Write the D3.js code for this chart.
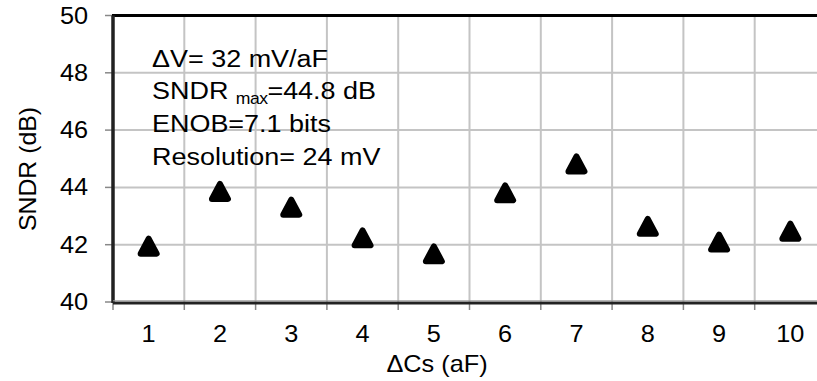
<!DOCTYPE html>
<html><head><meta charset="utf-8">
<script src="https://cdn.jsdelivr.net/npm/d3@7"></script>
<style>
html,body{margin:0;padding:0;background:#fff;}
svg{display:block;font-family:"Liberation Sans",Arial,sans-serif;}
</style></head>
<body>
<svg id="chart" width="817" height="381"></svg>
<script>
const categories = [1,2,3,4,5,6,7,8,9,10];
const sndr = [41.95, 43.86, 43.31, 42.24, 41.68, 43.81, 44.82, 42.64, 42.09, 42.47];
const yTicks = [40,42,44,46,48,50];
const annotation = ["ΔV= 32 mV/aF", "SNDR", "ENOB=7.1 bits", "Resolution= 24 mV"];
const xTitle = "ΔCs (aF)";
const yTitle = "SNDR (dB)";

const svg = d3.select("#chart");
const L = 113, R = 826, T = 15.5, B = 302;
const SX = 1.1;
const x = d3.scaleBand().domain(categories).range([L, R]).padding(0);
const y = d3.scaleLinear().domain([40, 50]).range([B, T]);

// grid
const g = svg.append("g");
g.selectAll(".hg").data(yTicks.slice(1, -1)).join("line")
  .attr("x1", L).attr("x2", R).attr("y1", d => y(d)).attr("y2", d => y(d))
  .attr("stroke", "#c4c4c4").attr("stroke-width", 2);
g.selectAll(".vg").data(categories.slice(1)).join("line")
  .attr("x1", d => x(d)).attr("x2", d => x(d)).attr("y1", T).attr("y2", B)
  .attr("stroke", "#c4c4c4").attr("stroke-width", 2);

// y ticks
g.selectAll(".yt").data(yTicks).join("line")
  .attr("x1", 105).attr("x2", L).attr("y1", d => y(d)).attr("y2", d => y(d))
  .attr("stroke", "#888").attr("stroke-width", 1.5);
// x ticks at band boundaries
const xb = categories.map(d => x(d)).concat([R]);
g.selectAll(".xt").data(xb).join("line")
  .attr("x1", d => d).attr("x2", d => d).attr("y1", B).attr("y2", B + 8)
  .attr("stroke", "#888").attr("stroke-width", 1.5);

// frame
svg.append("line").attr("x1", L - 1).attr("x2", R).attr("y1", T).attr("y2", T)
  .attr("stroke", "#000").attr("stroke-width", 3);
svg.append("line").attr("x1", L).attr("x2", L).attr("y1", T).attr("y2", B + 1)
  .attr("stroke", "#222").attr("stroke-width", 3.5);
svg.append("line").attr("x1", L).attr("x2", R).attr("y1", B + 1).attr("y2", B + 1)
  .attr("stroke", "#222").attr("stroke-width", 3);
svg.append("line").attr("x1", L).attr("x2", R).attr("y1", B - 1.2).attr("y2", B - 1.2)
  .attr("stroke", "#999").attr("stroke-width", 1);

// y tick labels
svg.selectAll(".yl").data(yTicks).join("text")
  .attr("transform", d => `translate(88,${y(d) + 8}) scale(${SX},1)`)
  .attr("text-anchor", "end").attr("font-size", 23).attr("fill", "#000")
  .text(d => d);

// x tick labels
svg.selectAll(".xl").data(categories).join("text")
  .attr("transform", d => `translate(${x(d) + x.bandwidth() / 2},${342}) scale(${SX},1)`)
  .attr("text-anchor", "middle").attr("font-size", 23).attr("fill", "#000")
  .text(d => d);

// titles
svg.append("text").attr("transform", `translate(437,372) scale(${SX},1)`)
  .attr("text-anchor", "middle").attr("font-size", 23).text(xTitle);
svg.append("text").attr("transform", `translate(36,169) rotate(-90) scale(1.08,1)`)
  .attr("text-anchor", "middle").attr("font-size", 23).text(yTitle);

// markers (rounded triangles)
const tw = 16, th = 15;
function tri(cx, cy) {
  const p = d3.path();
  p.moveTo(cx, cy - th / 2);
  p.lineTo(cx + tw / 2, cy + th / 2);
  p.lineTo(cx - tw / 2, cy + th / 2);
  p.closePath();
  return p.toString();
}
svg.selectAll(".mk").data(sndr).join("path")
  .attr("d", (d, i) => tri(x(categories[i]) + x.bandwidth() / 2, y(d)))
  .attr("fill", "#000").attr("stroke", "#000").attr("stroke-width", 6)
  .attr("stroke-linejoin", "round");

// annotation
const ax = 152, ay0 = 66.5, dy = 32.7;
const at = svg.append("g").attr("font-size", 24.5).attr("fill", "#000");
at.append("text").attr("transform", `translate(${ax},${ay0}) scale(${SX},1)`).text(annotation[0]);
const t2 = at.append("text").attr("transform", `translate(${ax},${ay0 + dy}) scale(${SX},1)`);
t2.append("tspan").text(annotation[1] + " ");
t2.append("tspan").attr("font-size", 16).attr("dy", 5).attr("letter-spacing", -0.5).text("max");
t2.append("tspan").attr("dy", -5).text("=44.8 dB");
at.append("text").attr("transform", `translate(${ax},${ay0 + 2 * dy}) scale(${SX},1)`).text(annotation[2]);
at.append("text").attr("transform", `translate(${ax},${ay0 + 3 * dy}) scale(${SX},1)`).text(annotation[3]);
</script>
</body></html>
